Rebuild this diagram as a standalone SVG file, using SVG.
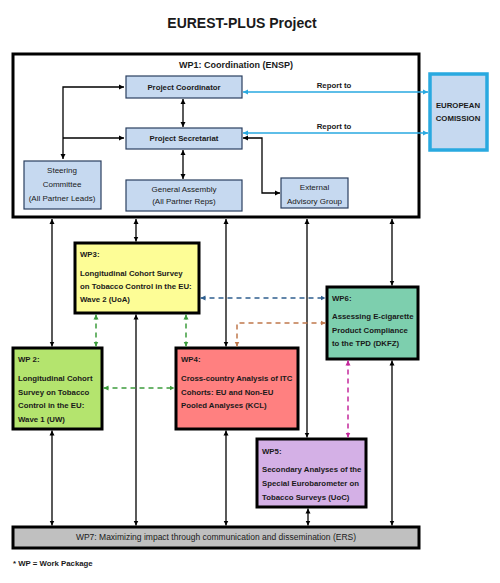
<svg xmlns="http://www.w3.org/2000/svg" width="500" height="583" viewBox="0 0 500 583">
<defs>
<style>
text{font-family:"Liberation Sans",Arial,sans-serif;fill:#1a1a1a}
.t{font-size:7.8px;font-weight:bold}
.r{font-size:8px}
.c{text-anchor:middle}
.lb{fill:#c6d9f0;stroke:#2a3f5f;stroke-width:1.2}
.wp{stroke:#000;stroke-width:3}
.k{fill:none;stroke:#000;stroke-width:1.3}
.bl{fill:none;stroke:#29a9e0;stroke-width:1.5}
.d{fill:none;stroke-width:1.5;stroke-dasharray:5 4}
</style>
<marker id="mk" markerUnits="userSpaceOnUse" markerWidth="6" markerHeight="6" refX="5" refY="3" orient="auto-start-reverse"><path d="M0,0.5 L5,3 L0,5.5 z" fill="#000"/></marker>
<marker id="mb" markerUnits="userSpaceOnUse" markerWidth="6" markerHeight="6" refX="5" refY="3" orient="auto-start-reverse"><path d="M0,0.5 L5,3 L0,5.5 z" fill="#29a9e0"/></marker>
<marker id="md" markerUnits="userSpaceOnUse" markerWidth="6" markerHeight="6" refX="5" refY="3" orient="auto-start-reverse"><path d="M0,0.5 L5,3 L0,5.5 z" fill="#2f5f8f"/></marker>
<marker id="mo" markerUnits="userSpaceOnUse" markerWidth="6" markerHeight="6" refX="5" refY="3" orient="auto-start-reverse"><path d="M0,0.5 L5,3 L0,5.5 z" fill="#c0784c"/></marker>
<marker id="mg" markerUnits="userSpaceOnUse" markerWidth="6" markerHeight="6" refX="5" refY="3" orient="auto-start-reverse"><path d="M0,0.5 L5,3 L0,5.5 z" fill="#3c9c3c"/></marker>
<marker id="mm" markerUnits="userSpaceOnUse" markerWidth="6" markerHeight="6" refX="5" refY="3" orient="auto-start-reverse"><path d="M0,0.5 L5,3 L0,5.5 z" fill="#c4289c"/></marker>
</defs>
<rect width="500" height="583" fill="#fff"/>
<text x="242" y="28" class="c" style="font-size:14px;font-weight:bold">EUREST-PLUS Project</text>

<g id="wp1">
<rect x="13" y="54" width="406" height="163" fill="#fff" class="wp"/>
<text x="236" y="68" class="c" style="font-size:9px;font-weight:bold">WP1: Coordination (ENSP)</text>
</g>
<g id="coordinator">
<rect x="126" y="76" width="116" height="22" class="lb"/>
<text x="184" y="89.5" class="t c">Project Coordinator</text>
</g>
<g id="secretariat">
<rect x="126" y="128" width="116" height="21" class="lb"/>
<text x="184" y="140.5" class="t c">Project Secretariat</text>
</g>
<g id="steering">
<rect x="24" y="161" width="77" height="48" class="lb"/>
<text x="62" y="173" class="r c">Steering</text>
<text x="62" y="187" class="r c">Committee</text>
<text x="62" y="201" class="r c">(All Partner Leads)</text>
</g>
<g id="assembly">
<rect x="126" y="180" width="116" height="31" class="lb"/>
<text x="184" y="191.5" class="r c">General Assembly</text>
<text x="184" y="203.5" class="r c">(All Partner Reps)</text>
</g>
<g id="advisory">
<rect x="281" y="178" width="67" height="30" class="lb"/>
<text x="314.5" y="190" class="r c">External</text>
<text x="314.5" y="204" class="r c">Advisory Group</text>
</g>
<g id="ec">
<rect x="430" y="74" width="57" height="76" fill="#c6d9f0" stroke="#29a9e0" stroke-width="3.5"/>
<text x="458" y="107.5" class="t c">EUROPEAN</text>
<text x="458" y="120.5" class="t c">COMISSION</text>
</g>
<g id="wp3">
<rect x="75" y="243" width="124" height="70" fill="#fdfd96" class="wp"/>
<text x="80" y="256.5" class="t">WP3:</text>
<text x="80" y="275.5" class="t">Longitudinal Cohort Survey</text>
<text x="80" y="288.5" class="t">on Tobacco Control in the EU:</text>
<text x="80" y="302" class="t">Wave 2 (UoA)</text>
</g>
<g id="wp6">
<rect x="327" y="287" width="91" height="72" fill="#7dcfae" class="wp"/>
<text x="332" y="300.5" class="t">WP6:</text>
<text x="332" y="319" class="t">Assessing E-cigarette</text>
<text x="332" y="332.5" class="t">Product Compliance</text>
<text x="332" y="346" class="t">to the TPD (DKFZ)</text>
</g>
<g id="wp2">
<rect x="13" y="348" width="89" height="81" fill="#b4e46e" class="wp"/>
<text x="18" y="361.5" class="t">WP 2:</text>
<text x="18" y="380.5" class="t">Longitudinal Cohort</text>
<text x="18" y="394.5" class="t">Survey on Tobacco</text>
<text x="18" y="408" class="t">Control in the EU:</text>
<text x="18" y="421.5" class="t">Wave 1 (UW)</text>
</g>
<g id="wp4">
<rect x="176" y="348" width="122" height="81" fill="#ff8080" class="wp"/>
<text x="181" y="361.5" class="t">WP4:</text>
<text x="181" y="380.5" class="t">Cross-country Analysis of ITC</text>
<text x="181" y="394.5" class="t">Cohorts: EU and Non-EU</text>
<text x="181" y="408" class="t">Pooled Analyses (KCL)</text>
</g>
<g id="wp5">
<rect x="257" y="439" width="109" height="68" fill="#d4b0e6" class="wp"/>
<text x="262" y="454" class="t">WP5:</text>
<text x="262" y="471.5" class="t">Secondary Analyses of the</text>
<text x="262" y="485.5" class="t">Special Eurobarometer on</text>
<text x="262" y="499.5" class="t">Tobacco Surveys (UoC)</text>
</g>
<g id="wp7">
<rect x="13" y="527" width="406" height="21" fill="#c0c0c0" class="wp"/>
<text x="216" y="540" class="c" style="font-size:8.5px">WP7: Maximizing impact through communication and dissemination (ERS)</text>
</g>
<text x="13" y="566" class="t">* WP = Work Package</text>

<g id="connectors">
<path class="k" d="M63,159 V87 H124" marker-start="url(#mk)" marker-end="url(#mk)"/>
<path class="k" d="M63,138 H124" marker-end="url(#mk)"/>
<path class="k" d="M183,99 V127" marker-start="url(#mk)" marker-end="url(#mk)"/>
<path class="k" d="M183,150 V179" marker-start="url(#mk)" marker-end="url(#mk)"/>
<path class="k" d="M243,138 H262 V193 H280" marker-start="url(#mk)" marker-end="url(#mk)"/>
<path class="k" d="M52,219 V346.5" marker-start="url(#mk)" marker-end="url(#mk)"/>
<path class="k" d="M136,219 V241.5" marker-start="url(#mk)" marker-end="url(#mk)"/>
<path class="k" d="M226,219 V346.5" marker-start="url(#mk)" marker-end="url(#mk)"/>
<path class="k" d="M307,219 V437.5" marker-start="url(#mk)" marker-end="url(#mk)"/>
<path class="k" d="M392,219 V285.5" marker-start="url(#mk)" marker-end="url(#mk)"/>
<path class="k" d="M52,430.5 V525.5" marker-start="url(#mk)" marker-end="url(#mk)"/>
<path class="k" d="M136,314.5 V525.5" marker-start="url(#mk)" marker-end="url(#mk)"/>
<path class="k" d="M226,430.5 V525.5" marker-start="url(#mk)" marker-end="url(#mk)"/>
<path class="k" d="M308,508.5 V525.5" marker-start="url(#mk)" marker-end="url(#mk)"/>
<path class="k" d="M392,360.5 V525.5" marker-start="url(#mk)" marker-end="url(#mk)"/>
<path class="bl" d="M243,92 H428" marker-start="url(#mb)" marker-end="url(#mb)"/>
<path class="bl" d="M243,133 H428" marker-start="url(#mb)" marker-end="url(#mb)"/>
<text x="334" y="88" class="t c">Report to</text>
<text x="334" y="129" class="t c">Report to</text>
<path class="d" stroke="#2f5f8f" d="M200.5,298 H325.5" marker-start="url(#md)" marker-end="url(#md)"/>
<path class="d" stroke="#c0784c" d="M325.5,323 H237 V346.5" marker-start="url(#mo)" marker-end="url(#mo)"/>
<path class="d" stroke="#3c9c3c" d="M96,314.5 V346.5" marker-start="url(#mg)" marker-end="url(#mg)"/>
<path class="d" stroke="#3c9c3c" d="M186,314.5 V346.5" marker-start="url(#mg)" marker-end="url(#mg)"/>
<path class="d" stroke="#3c9c3c" d="M103.5,388 H174.5" marker-start="url(#mg)" marker-end="url(#mg)"/>
<path class="d" stroke="#c4289c" d="M348,360.5 V437.5" marker-start="url(#mm)" marker-end="url(#mm)"/>
</g>
</svg>
